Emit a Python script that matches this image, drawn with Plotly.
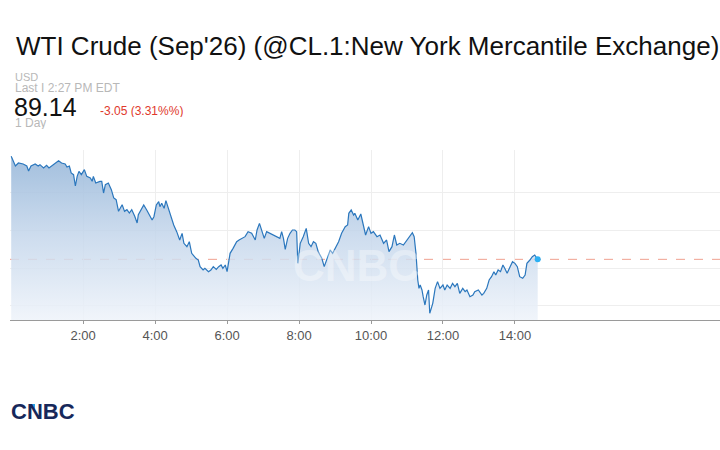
import plotly.graph_objects as go

# ---- data ----
session_date = "2026-07-20"
times = ["00:00","00:07","00:12","00:20","00:26","00:29","00:33","00:40","00:45","00:48",
         "00:54","00:59","01:03","01:10","01:16","01:19","01:24","01:30","01:33","01:37",
         "01:40","01:44","01:47","01:50","01:53","01:57","02:02","02:06","02:12","02:15",
         "02:17","02:21","02:28","02:31","02:34","02:37","02:42","02:47","02:51","02:55",
         "02:59","03:05","03:09","03:13","03:17","03:21","03:26","03:30","03:32","03:38",
         "03:41","03:46","03:51","03:55","03:58","04:02","04:06","04:08","04:11","04:15",
         "04:18","04:22","04:26","04:31","04:36","04:41","04:45","04:48","04:53","04:57",
         "05:01","05:05","05:08","05:12","05:15","05:20","05:23","05:29","05:33","05:37",
         "05:42","05:46","05:50","05:53","05:57","06:00","06:05","06:10","06:16","06:20",
         "06:24","06:30","06:35","06:41","06:47","06:50","06:54","06:58","07:02","07:06",
         "07:12","07:17","07:23","07:28","07:31","07:34","07:37","07:41","07:45","07:49",
         "07:53","07:56","07:58","08:02","08:07","08:12","08:16","08:20","08:24","08:28",
         "08:32","08:38","08:42","08:46","08:52","08:56","09:00","09:06","09:11","09:17",
         "09:21","09:23","09:27","09:31","09:33","09:38","09:43","09:47","09:51","09:56",
         "10:00","10:04","10:10","10:15","10:21","10:26","10:30","10:35","10:39","10:43",
         "10:48","10:54","11:00","11:05","11:09","11:12","11:15","11:18","11:20","11:22",
         "11:25","11:27","11:30","11:33","11:36","11:38","11:43","11:47","11:51","11:55",
         "12:00","12:03","12:07","12:12","12:16","12:20","12:24","12:28","12:33","12:37",
         "12:40","12:45","12:50","12:53","12:59","13:05","13:08","13:13","13:17","13:21",
         "13:25","13:28","13:32","13:36","13:40","13:43","13:47","13:52","13:56","14:00",
         "14:04","14:08","14:13","14:17","14:20","14:25","14:29","14:33","14:36","14:38"]
prices = [92.23,91.94,92.03,92.00,91.94,91.79,91.94,92.00,91.94,91.98,
          91.88,91.96,91.88,91.98,92.06,92.10,92.03,92.00,91.91,91.94,
          91.73,91.68,91.34,91.63,91.78,91.68,91.83,91.63,91.58,91.48,
          91.63,91.43,91.48,91.48,91.13,91.38,91.43,91.23,90.98,90.93,
          90.58,90.78,90.58,90.63,90.53,90.63,90.43,90.23,90.48,90.68,
          90.77,90.62,90.47,90.32,90.42,90.77,90.87,90.72,90.82,90.67,
          90.90,90.67,90.47,90.17,89.97,89.72,89.92,89.62,89.52,89.67,
          89.32,89.22,89.17,89.12,88.92,88.82,88.87,88.77,88.82,88.92,
          88.84,88.92,88.97,88.87,88.97,88.77,89.32,89.47,89.67,89.72,
          89.77,89.82,89.97,89.92,89.72,90.02,90.22,90.02,89.77,89.97,
          89.92,89.87,89.82,89.77,89.97,89.77,89.44,89.77,89.92,90.02,
          90.02,89.97,89.02,89.62,89.82,90.07,89.62,89.52,89.67,89.62,
          89.37,89.17,88.92,89.12,89.42,89.32,89.47,89.67,89.92,90.12,
          90.17,90.52,90.62,90.47,90.52,90.32,90.50,90.17,89.87,90.12,
          89.92,89.97,89.82,89.87,89.62,89.72,89.37,89.52,89.87,89.57,
          89.62,89.57,89.72,89.87,89.94,89.82,89.32,88.52,88.27,88.37,
          88.22,88.02,87.77,88.07,88.22,87.52,87.82,88.27,88.47,88.27,
          88.37,88.22,88.37,88.27,88.42,88.32,88.42,88.12,88.27,88.17,
          88.22,88.02,88.07,88.17,88.22,88.07,88.12,88.27,88.52,88.62,
          88.77,88.67,88.82,88.77,88.97,88.87,88.72,88.92,89.07,89.02,
          88.92,88.62,88.57,88.67,89.02,89.12,89.22,89.27,89.17,89.14]

last_price = 89.14
tick_times = ["02:00", "04:00", "06:00", "08:00", "10:00", "12:00", "14:00"]
tick_labels = ["2:00", "4:00", "6:00", "8:00", "10:00", "12:00", "14:00"]
y_grid = [87.77, 88.88, 90.02, 91.16]
y_min, y_max = 87.32, 92.42
x_start, x_end = "2026-07-19 23:58", "2026-07-20 19:42"

title_text = "WTI Crude (Sep'26) (@CL.1:New York Mercantile Exchange)"
currency = "USD"
last_text = "Last I 2:27 PM EDT"
price_text = "89.14"
change_text = "-3.05 (3.31%%)"
period_text = "1 Day"
brand = "CNBC"

# ---- figure (page body margin removed, so figure px == window px) ----
W, H = 720, 450

xs = [f"{session_date} {t}" for t in times]
tickvals = [f"{session_date} {t}" for t in tick_times]

fig = go.Figure()
fig.add_trace(go.Scatter(x=xs, y=[y_min] * len(xs), mode="lines",
                         line=dict(width=0, color="rgba(0,0,0,0)"),
                         hoverinfo="skip", showlegend=False))
fig.add_trace(go.Scatter(
    x=xs, y=prices, mode="lines", fill="tonexty",
    line=dict(color="#2b77bd", width=1.2),
    fillgradient=dict(type="vertical", start=y_min, stop=y_max,
                      colorscale=[[0, "rgba(238,243,250,0.85)"],
                                  [0.5, "rgba(196,214,235,0.85)"],
                                  [1, "rgba(148,181,216,0.9)"]]),
    hoverinfo="skip", showlegend=False))
fig.add_trace(go.Scatter(x=[xs[-1]], y=[last_price], mode="markers",
                         marker=dict(color="#2cb0f3", size=6),
                         hoverinfo="skip", showlegend=False))

fig.add_shape(type="line", xref="paper", yref="y", x0=0, x1=1,
              y0=last_price, y1=last_price, layer="below",
              line=dict(color="#f0a090", width=1, dash="dash"))

font_main = "Liberation Sans, Arial, Helvetica, sans-serif"

# plot area in window pixels: x 10..720, y 150..320
PL, PR, PT, PB = 10, 720, 150, 320

fig.update_layout(
    width=W, height=H,
    margin=dict(l=PL, r=W - PR, t=PT, b=H - PB),
    paper_bgcolor="white", plot_bgcolor="white",
    font=dict(family=font_main),
    title=dict(text=title_text, x=16 / W, xanchor="left",
               y=1 - 46 / H, yanchor="middle", yref="container",
               font=dict(size=26, color="#111111", family=font_main)),
    xaxis=dict(type="date", range=[x_start, x_end],
               tickvals=tickvals, ticktext=tick_labels,
               showgrid=True, gridcolor="#eeeeee", gridwidth=1,
               showline=True, linecolor="#9a9a9a", linewidth=1,
               ticks="outside", ticklen=3, tickcolor="#9a9a9a",
               tickfont=dict(size=13, color="#555555"),
               zeroline=False, fixedrange=True),
    yaxis=dict(range=[y_min, y_max], tickvals=y_grid, showticklabels=False,
               showgrid=True, gridcolor="#eeeeee", gridwidth=1,
               zeroline=False, showline=False, ticks="", fixedrange=True),
    hovermode=False,
)

def px_x(px):
    return (px - PL) / (PR - PL)

def px_y(py):
    return (PB - py) / (PB - PT)

# text, left px, centre px, font size, colour, box height
ann = [
    (currency, 14, 76, 11, "#b8b8b8", 11),
    (last_text, 14, 88, 12, "#b8b8b8", 12),
    (price_text, 13, 106, 25, "#111111", 23),
    (change_text, 99, 111, 12, "#e0392c", 13),
    (period_text, 14, 123, 12, "#b8b8b8", 13),
]
for text, x, y, size, color, hgt in ann:
    fig.add_annotation(text=text, xref="paper", yref="paper",
                       x=px_x(x), y=px_y(y), xanchor="left", yanchor="middle",
                       showarrow=False, borderpad=0, height=hgt, valign="middle",
                       font=dict(size=size, color=color, family=font_main))

# watermark
fig.add_annotation(text="<b>" + brand + "</b>", xref="paper", yref="paper",
                   x=px_x(356), y=px_y(265), xanchor="center", yanchor="middle",
                   showarrow=False, opacity=0.35,
                   font=dict(size=44, color="white", family=font_main))
# logo
fig.add_annotation(text="<b>" + brand + "</b>", xref="paper", yref="paper",
                   x=px_x(9), y=px_y(411), xanchor="left", yanchor="middle",
                   showarrow=False,
                   font=dict(size=22, color="#17285a", family=font_main))
# small blue wedge of the logo's N
fig.add_shape(type="path", xref="paper", yref="paper", layer="above",
              path=(f"M {px_x(29)} {px_y(404)} L {px_x(35)} {px_y(404)} "
                    f"L {px_x(35)} {px_y(411)} Z"),
              fillcolor="#2aa3e0", line=dict(width=0))

fig.write_html(
    "out.html",
    config={"displayModeBar": False},
    post_script="document.body.style.margin='0';document.body.style.overflow='hidden';",
)
